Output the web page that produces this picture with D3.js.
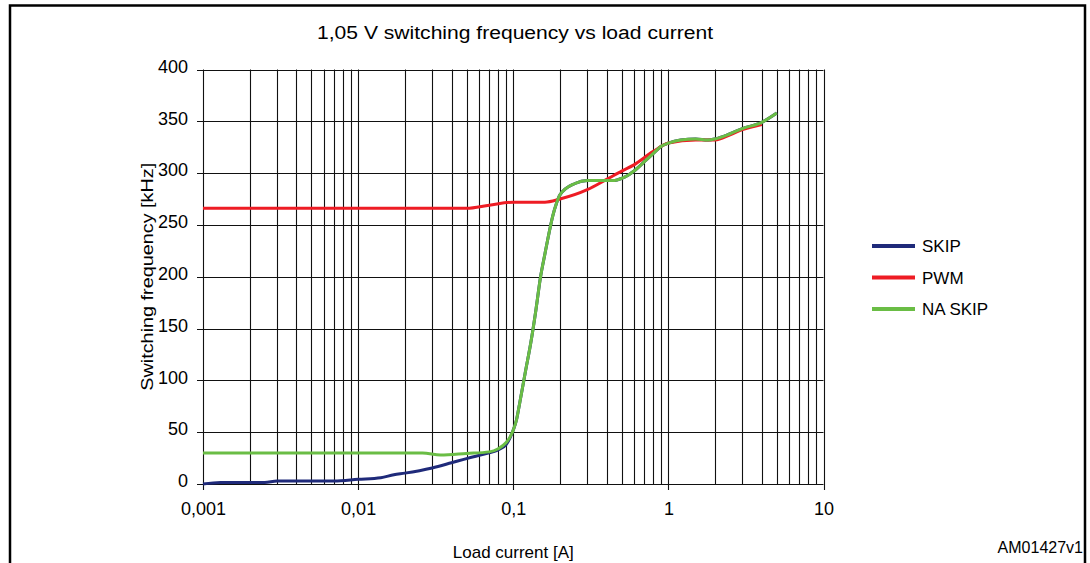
<!DOCTYPE html>
<html>
<head>
<meta charset="utf-8">
<script src="https://cdn.jsdelivr.net/npm/d3@7"></script>
<style>
  body { margin: 0; background: #fff; }
  svg { display: block; font-family: "Liberation Sans", Arial, sans-serif; }
</style>
</head>
<body>
<svg id="chart" width="1090" height="563"></svg>
<script>
// chart data
var seriesNames = ["SKIP", "PWM", "NA SKIP"];
var seriesColors = ["#1f2a7a", "#ee1c24", "#6abd45"];

var skipX = [0.001, 0.0013, 0.0025, 0.003, 0.007, 0.01, 0.014, 0.017, 0.02, 0.03, 0.04, 0.05, 0.06, 0.07, 0.08, 0.09, 0.095, 0.1, 0.105, 0.11, 0.12, 0.13, 0.14, 0.15, 0.16, 0.17, 0.18, 0.19, 0.2, 0.25, 0.3, 0.45, 0.5, 0.55, 0.6, 0.7, 0.8, 0.9, 1, 1.2, 1.5, 1.8, 2, 2.5, 3, 4, 5];
var skipY = [0, 1.5, 1.5, 3, 3, 4.5, 6, 9, 10.5, 15.5, 20.5, 24.5, 27.5, 30, 33, 38, 44, 52, 62, 78, 109, 137, 168, 200, 222, 242, 259, 271, 279, 290, 293, 293, 295, 298, 302, 311, 319, 326, 329, 332, 333, 332, 333, 338, 343, 349, 358];

var pwmX = [0.001, 0.01, 0.05, 0.07, 0.1, 0.16, 0.2, 0.3, 0.4, 0.5, 0.6, 0.8, 1, 1.5, 2, 2.5, 3, 4];
var pwmY = [266, 266, 266, 269, 272, 272, 275, 284, 294, 302, 308, 321, 329, 332, 332, 337, 342, 347];

var naSkipX = [0.001, 0.01, 0.026, 0.034, 0.05, 0.07, 0.08, 0.09, 0.095, 0.1, 0.105, 0.11, 0.12, 0.13, 0.14, 0.15, 0.16, 0.17, 0.18, 0.19, 0.2, 0.25, 0.3, 0.45, 0.5, 0.55, 0.6, 0.7, 0.8, 0.9, 1, 1.2, 1.5, 1.8, 2, 2.5, 3, 4, 5];
var naSkipY = [30, 30, 30, 28, 29.5, 31, 34, 40, 45, 52, 62, 78, 109, 137, 168, 200, 222, 242, 259, 271, 279, 290, 293, 293, 295, 298, 302, 311, 319, 326, 329, 332, 333, 332, 333, 338, 343, 349, 358];

var xTickValues = [0.001, 0.01, 0.1, 1, 10];
var xTickLabels = ["0,001", "0,01", "0,1", "1", "10"];
var yTickValues = [0, 50, 100, 150, 200, 250, 300, 350, 400];

var svg = d3.select("#chart");

var plotLeft = 203, plotRight = 823.5, plotTop = 69.5, plotBottom = 484;

var xScale = d3.scaleLog().domain([0.001, 10]).range([plotLeft, plotRight]);
var yScale = d3.scaleLinear().domain([0, 400]).range([plotBottom, plotTop]);

// outer frame
svg.append("path")
  .attr("d", "M10,563 L10,5.5 L1085,5.5 L1085,563")
  .attr("fill", "none")
  .attr("stroke", "#000")
  .attr("stroke-width", 2.5);

// title
svg.append("text")
  .attr("x", 317)
  .attr("y", 38.5)
  .attr("font-size", 18)
  .attr("textLength", 396)
  .attr("lengthAdjust", "spacingAndGlyphs")
  .text("1,05 V switching frequency vs load current");

// grid: vertical lines at 1..9 x each decade
var minorX = [];
[0.001, 0.01, 0.1, 1].forEach(function(d) {
  for (var k = 1; k <= 9; k++) minorX.push(d * k);
});
minorX.push(10);

var grid = svg.append("g").attr("class", "grid");
grid.selectAll("line.v")
  .data(minorX)
  .enter()
  .append("line")
  .attr("class", "v")
  .attr("x1", d => Math.round(xScale(d)) + 0.5)
  .attr("x2", d => Math.round(xScale(d)) + 0.5)
  .attr("y1", plotTop)
  .attr("y2", d => xTickValues.indexOf(d) >= 0 ? plotBottom + 6 : plotBottom)
  .attr("stroke", "#111")
  .attr("stroke-width", 1.1);

grid.selectAll("line.h")
  .data(yTickValues)
  .enter()
  .append("line")
  .attr("class", "h")
  .attr("x1", plotLeft - 6)
  .attr("x2", plotRight)
  .attr("y1", d => Math.round(yScale(d)) + 0.5)
  .attr("y2", d => Math.round(yScale(d)) + 0.5)
  .attr("stroke", "#111")
  .attr("stroke-width", 1.1);

// axes labels (text only, lines are the grid)
var xAxis = d3.axisBottom(xScale)
  .tickValues(xTickValues)
  .tickFormat((d, i) => xTickLabels[i])
  .tickSize(0)
  .tickPadding(18);

svg.append("g")
  .attr("id", "x-axis")
  .attr("transform", "translate(0," + plotBottom + ")")
  .call(xAxis)
  .call(g => g.select(".domain").remove())
  .selectAll("text")
  .attr("font-family", "Liberation Sans, Arial, sans-serif")
  .attr("font-size", 18)
  .attr("fill", "#000");

var yAxis = d3.axisLeft(yScale)
  .tickValues(yTickValues)
  .tickSize(0)
  .tickPadding(15);

svg.append("g")
  .attr("id", "y-axis")
  .attr("transform", "translate(" + plotLeft + ",-3)")
  .call(yAxis)
  .call(g => g.select(".domain").remove())
  .selectAll("text")
  .attr("font-family", "Liberation Sans, Arial, sans-serif")
  .attr("font-size", 18)
  .attr("fill", "#000");

svg.append("text")
  .attr("transform", "translate(153," + ((plotTop + plotBottom) / 2) + ") rotate(-90)")
  .attr("text-anchor", "middle")
  .attr("font-size", 17)
  .attr("textLength", 228)
  .attr("lengthAdjust", "spacingAndGlyphs")
  .text("Switching frequency [kHz]");

svg.append("text")
  .attr("x", (plotLeft + plotRight) / 2)
  .attr("y", 558)
  .attr("text-anchor", "middle")
  .attr("font-size", 17)
  .text("Load current [A]");

svg.append("text")
  .attr("x", 1083)
  .attr("y", 553)
  .attr("text-anchor", "end")
  .attr("font-size", 16)
  .text("AM01427v1");

// series lines
var seriesData = [
  d3.zip(skipX, skipY),
  d3.zip(pwmX, pwmY),
  d3.zip(naSkipX, naSkipY)
];

var line = d3.line()
  .x(d => xScale(d[0]))
  .y(d => yScale(d[1]))
  .curve(d3.curveMonotoneX);

svg.selectAll("path.series")
  .data(seriesData)
  .enter()
  .append("path")
  .attr("class", "series")
  .attr("d", line)
  .attr("fill", "none")
  .attr("stroke", (d, i) => seriesColors[i])
  .attr("stroke-width", 3)
  .attr("stroke-linejoin", "round");

// legend
var legend = svg.append("g").attr("id", "legend");
var legendY = [246, 277.5, 309];
seriesNames.forEach(function(name, i) {
  legend.append("line")
    .attr("x1", 872).attr("x2", 915)
    .attr("y1", legendY[i]).attr("y2", legendY[i])
    .attr("stroke", seriesColors[i])
    .attr("stroke-width", 4);
  legend.append("text")
    .attr("x", 922)
    .attr("y", legendY[i] + 6)
    .attr("font-size", 17)
    .text(name);
});
</script>
</body>
</html>
